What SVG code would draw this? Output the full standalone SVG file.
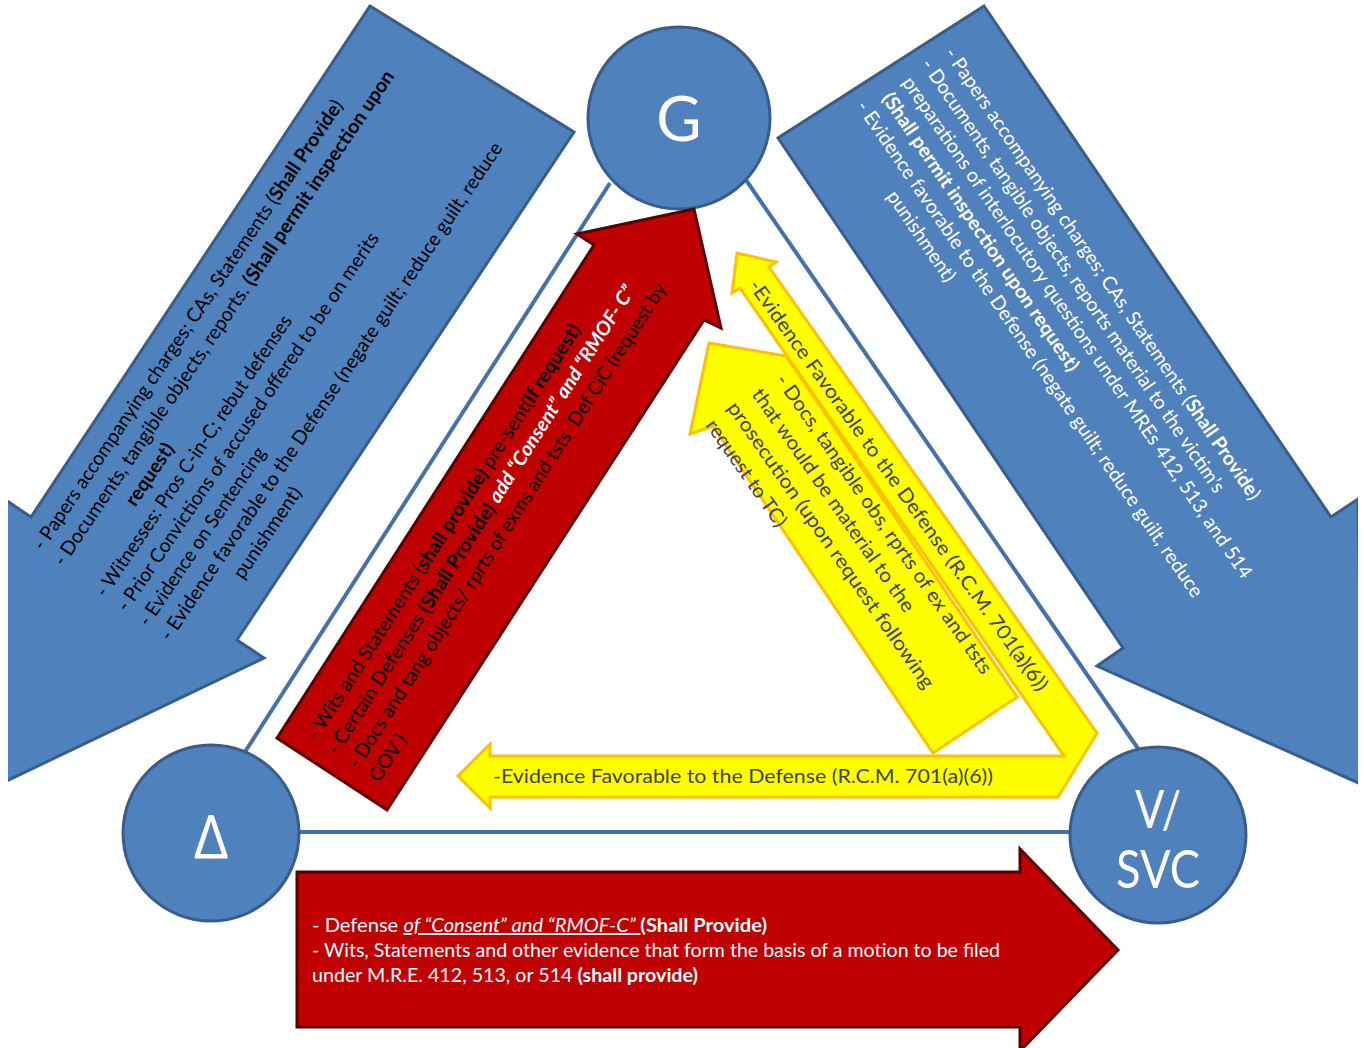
<svg xmlns="http://www.w3.org/2000/svg" width="1364" height="1048" viewBox="0 0 1364 1048">
<defs>
<clipPath id="slide"><rect x="8" y="4" width="1350" height="1044"/></clipPath>
</defs>
<style>
.blue{fill:#4F81BD;stroke:#385D8A;stroke-width:3;stroke-linejoin:miter}
.node{fill:#4F81BD;stroke:#385D8A;stroke-width:3}
.red{fill:#C00000;stroke:#5A0000;stroke-width:3;stroke-linejoin:miter}
.yel{fill:#FFFF00;stroke:#FFC000;stroke-width:3;stroke-linejoin:miter}
.conn{stroke:#4472A8;stroke-width:4;fill:none}
text{font-family:Lato,"Open Sans","Liberation Sans",sans-serif;font-size:19.5px}
.k{fill:#000}
.w{fill:#fff}
.g{fill:#404048}
.b{font-weight:bold}
.bi{font-weight:bold;font-style:italic;fill:#fff}
.iu{font-style:italic;text-decoration:underline}
.lbl{fill:#fff;text-anchor:middle}
.pre{white-space:pre}
</style>
<rect width="1364" height="1048" fill="#fff"/>
<g id="connectors">
<line class="conn" x1="610" y1="183" x2="243" y2="755"/>
<line class="conn" x1="746" y1="180" x2="1139" y2="750"/>
<line class="conn" x1="299" y1="832" x2="1070" y2="832"/>
</g>
<g id="arrow-gov-to-defense">
<polygon class="blue" clip-path="url(#slide)" points="370,6 574,132 237,640 264,658 -4,786 4,499 31,517"/>
<g transform="translate(43,551.4) rotate(-56)" class="k">
<text x="0" y="0" textLength="538" lengthAdjust="spacingAndGlyphs">- Papers accompanying charges; CAs, Statements (<tspan class="b">Shall Provide</tspan>)</text>
<text x="-2" y="26" textLength="593" lengthAdjust="spacingAndGlyphs">- Documents, tangible objects, reports. <tspan class="b">(Shall permit inspection upon</tspan></text>
<text x="88" y="52" class="b">request)</text>
<text x="-4" y="78" textLength="335" lengthAdjust="spacingAndGlyphs">- Witnesses: Pros C-in-C; rebut defenses</text>
<text x="-4" y="104" textLength="452" lengthAdjust="spacingAndGlyphs">- Prior Convictions of accused offered to be on merits</text>
<text x="-4" y="130" textLength="211" lengthAdjust="spacingAndGlyphs">- Evidence on Sentencing</text>
<text x="-4" y="156" textLength="596" lengthAdjust="spacingAndGlyphs">- Evidence favorable to the Defense (negate guilt; reduce guilt, reduce</text>
<text x="88" y="182">punishment)</text>
</g>
</g>
<g id="arrow-gov-to-victim">
<polygon class="blue" clip-path="url(#slide)" points="984,6 1331,517 1358,499 1363,785 1097,666 1123,648 778,138"/>
<g transform="translate(944,53.4) rotate(55.6)" class="w">
<text x="0" y="0" textLength="543" lengthAdjust="spacingAndGlyphs">- Papers accompanying charges; CAs, Statements (<tspan class="b">Shall Provide</tspan>)</text>
<text x="-4" y="25.7" textLength="521" lengthAdjust="spacingAndGlyphs">- Documents, tangible objects, reports material to the victim’s</text>
<text x="0" y="51.4" textLength="603" lengthAdjust="spacingAndGlyphs">preparations of interlocutory questions under MREs 412, 513, and 514</text>
<text x="1.5" y="77.1" class="b" textLength="333" lengthAdjust="spacingAndGlyphs">(Shall permit inspection upon request)</text>
<text x="-6" y="102.8" textLength="597" lengthAdjust="spacingAndGlyphs">- Evidence favorable to the Defense (negate guilt; reduce guilt, reduce</text>
<text x="85" y="128.5">punishment)</text>
</g>
</g>
<g id="node-G">
<circle class="node" cx="679" cy="118" r="91"/>
<text class="lbl" x="679" y="141" style="font-size:62px">G</text>
</g>
<g id="node-defense">
<circle class="node" cx="211" cy="833" r="88"/>
<text class="lbl" x="211" y="858" style="font-family:'Open Sans','DejaVu Sans',sans-serif;font-size:60px">Δ</text>
</g>
<g id="node-victim">
<circle class="node" cx="1158" cy="835" r="88"/>
<text class="lbl" x="1158" y="828" style="font-size:52px" textLength="46" lengthAdjust="spacingAndGlyphs">V/</text>
<text class="lbl" x="1158" y="888" style="font-size:52px" textLength="84" lengthAdjust="spacingAndGlyphs">SVC</text>
</g>
<g id="arrow-defense-to-gov">
<polygon class="red" points="277,738 594,245 577,234 694,209 721,328 704,320 387,810"/>
<g transform="translate(317,741) rotate(-57.3)" class="k">
<text x="0" y="0" textLength="489" lengthAdjust="spacingAndGlyphs">- Wits and Statements (<tspan class="b">shall provide)</tspan> pre-sent(<tspan class="b">If request)</tspan></text>
<text x="-2" y="25" textLength="553" lengthAdjust="spacingAndGlyphs">- Certain Defenses <tspan class="b">(Shall Provide)</tspan> <tspan class="bi">add “Consent” and “RMOF- C”</tspan></text>
<text x="-2" y="50" class="pre" textLength="572" lengthAdjust="spacingAndGlyphs">- Docs and tang objects/ rprts of exms and tsts  Def CiC (request by</text>
<text x="-2" y="75">GOV )</text>
</g>
</g>
<g id="arrow-defense-to-victim">
<polygon class="red" clip-path="url(#slide)" points="297,872 1020,872 1020,849 1118,950 1020,1051 1020,1027 297,1027"/>
<text x="312" y="932" class="w" textLength="455" lengthAdjust="spacingAndGlyphs">- Defense <tspan class="iu">of “Consent” and “RMOF-C” </tspan><tspan class="b">(Shall Provide)</tspan></text>
<text x="312" y="957" class="w" textLength="688" lengthAdjust="spacingAndGlyphs">- Wits, Statements and other evidence that form the basis of a motion to be filed</text>
<text x="312" y="982" class="w" textLength="386" lengthAdjust="spacingAndGlyphs">under M.R.E. 412, 513, or 514 <tspan class="b">(shall provide)</tspan></text>
</g>
<g id="arrow-victim-evidence">
<path class="yel" d="M458,776 L490,744 L490,756 L1064,756 L740,288 L732,293 L737,253 L776,262 L769,267 L1097,733 L1058,797 L490,797 L490,808 Z"/>
<g transform="translate(748,285.5) rotate(54.5)">
<text class="g" x="0" y="0" textLength="500" lengthAdjust="spacingAndGlyphs">-Evidence Favorable to the Defense (R.C.M. 701(a)(6))</text>
</g>
<text class="g" x="493" y="783" textLength="500" lengthAdjust="spacingAndGlyphs">-Evidence Favorable to the Defense (R.C.M. 701(a)(6))</text>
</g>
<g id="arrow-victim-docs">
<polygon class="yel" points="709,343 786,356 1017,697 933,753 713,426 690,434"/>
<g transform="translate(775,380) rotate(55)" class="g">
<text x="0" y="0" textLength="361" lengthAdjust="spacingAndGlyphs">- Docs, tangible obs, rprts of ex and tsts</text>
<text x="-2" y="27.8" textLength="268" lengthAdjust="spacingAndGlyphs">that would be material to the</text>
<text x="-5" y="55.6" textLength="345" lengthAdjust="spacingAndGlyphs">prosecution (upon request following</text>
<text x="-3" y="83.4" textLength="126" lengthAdjust="spacingAndGlyphs">request to TC)</text>
</g>
</g>
</svg>
